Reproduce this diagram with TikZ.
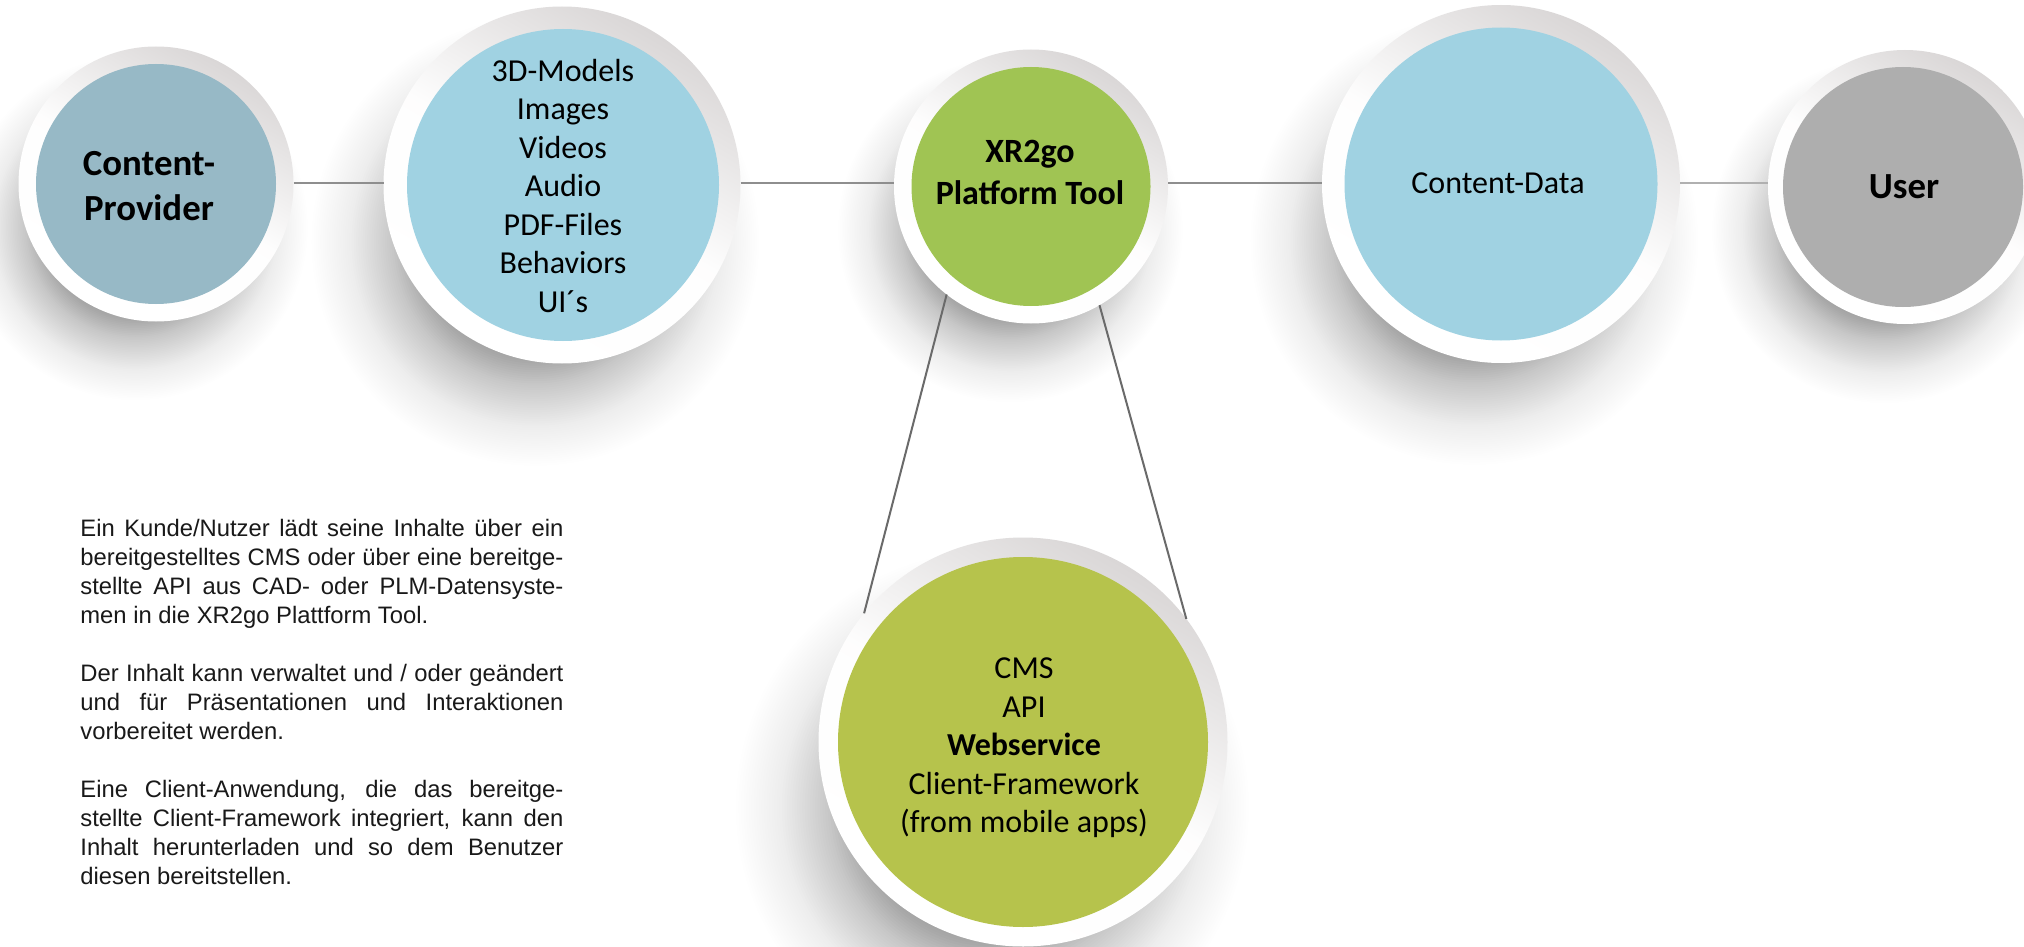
\documentclass[tikz,border=0pt]{standalone}
\usepackage{fontspec}
\setmainfont{Carlito}
\newfontfamily\bodyfont{Liberation Sans}
\definecolor{lineC}{HTML}{8E8E8E}
\definecolor{lineD}{HTML}{6A6A6A}
\definecolor{provC}{HTML}{97B9C6}
\definecolor{blueC}{HTML}{A0D2E2}
\definecolor{greenA}{HTML}{A0C453}
\definecolor{greenB}{HTML}{B6C34C}
\definecolor{greyC}{HTML}{AEAEAE}
\definecolor{rimC}{HTML}{DAD7D7}
\newcommand{\jl}[1]{\makebox[241.5pt][s]{#1}}
\tikzset{
 x=0.5pt,y=-0.5pt,
 conn/.style={draw=lineC,line width=0.75pt},
 diag/.style={draw=lineD,line width=1pt},
 label/.style={font=\fontsize{16}{19.25}\selectfont,align=center,text=black,inner sep=0pt},
 blabel/.style={font=\fontsize{18.4}{22.5}\selectfont\bfseries,align=center,text=black,inner sep=0pt},
 body/.style={font=\bodyfont\fontsize{11.9}{14.5}\selectfont,align=left,text=black!90,inner sep=0pt,anchor=north west},
 rim/.style={circle,minimum size=#1,inner sep=0pt,outer sep=0pt,
   top color=rimC,bottom color=white,middle color=white!96!rimC,shading angle=-30},
 core/.style={circle,minimum size=#1,inner sep=0pt,outer sep=0pt},
}
\newcommand{\shadowblob}[3]{% cx, cy, r (px): stack of faint discs, largest first
 \foreach \st in {1,...,60}{
  \pgfmathsetmacro{\tt}{1-\st/60}
  \pgfmathsetmacro{\op}{0.38*2*(1-\tt)/60+0.0002}
  \pgfmathsetmacro{\rad}{(0.62+0.75*\tt)*#3}
  \fill[black,fill opacity=\op] ({#1-0.15*#3},{#2+0.32*#3}) circle ({\rad});
 }}
\begin{document}
\begin{tikzpicture}
\useasboundingbox (0,0) rectangle (2024,947);
\fill[white] (0,0) rectangle (2024,947);
\begin{scope}
\clip (0,0) rectangle (2024,947);
% shadows
\shadowblob{156}{184}{137}
\shadowblob{562}{185}{178}
\shadowblob{1031}{186}{137}
\shadowblob{1501}{184}{178}
\shadowblob{1905}{187}{137}
\shadowblob{1023}{742}{204}
% rims
\node[rim=137.5pt] (r1) at (156,184) {};
\node[rim=178.5pt] (r2) at (562,185) {};
\node[rim=137pt] (r3) at (1031,186.5) {};
\node[rim=179pt] (r4) at (1501,184) {};
\node[rim=137pt] (r5) at (1905,187) {};
\node[rim=204.5pt] (r6) at (1023,742) {};
% cores
\node[core=120pt,fill=provC] (c1) at (156,184) {};
\node[core=156pt,fill=blueC] (c2) at (563,185) {};
\node[core=119.5pt,fill=greenA] (c3) at (1031,186.5) {};
\node[core=156.5pt,fill=blueC] (c4) at (1501,184) {};
\node[core=120pt,fill=greyC] (c5) at (1903,187) {};
\node[core=185pt,fill=greenB] (c6) at (1023,742) {};
\end{scope}
% connectors
\coordinate (ly) at (0,183);
\draw[conn] (r1.east |- ly) -- (r2.west |- ly);
\draw[conn] (r2.east |- ly) -- (r3.west |- ly);
\draw[conn] (r3.east |- ly) -- (r4.west |- ly);
\draw[conn,draw=lineC!70] (r4.east |- ly) -- (r5.west |- ly);
\draw[diag] (r3.-128) -- (r6.141.4);
\draw[diag] (r3.-60.5) -- (r6.37.6);
% labels
\node[blabel] (t1) at (149,186) {Content-\\Provider};
\node[label] (t2) at (563,186) {3D-Models\\Images\\Videos\\Audio\\PDF-Files\\Behaviors\\UI´s};
\node[blabel,font=\fontsize{17}{21}\selectfont\bfseries] (t3) at (1030,172) {XR2go\\Platform Tool};
\node[label] (t4) at (1498,183) {Content-Data};
\node[blabel] (t5) at (1904,187) {User};
\node[label] (t6) at (1024,748) {CMS\\API\\\textbf{Webservice}\\Client-Framework\\(from mobile apps)};
\node[body] (t7) at (80,519) {\jl{Ein Kunde/Nutzer lädt seine Inhalte über ein}\\
\jl{bereitgestelltes CMS oder über eine bereitge-}\\
\jl{stellte API aus CAD- oder PLM-Datensyste-}\\
men in die XR2go Plattform Tool.\\[14.5pt]
\jl{Der Inhalt kann verwaltet und / oder geändert}\\
\jl{und für Präsentationen und Interaktionen}\\
vorbereitet werden.\\[14.5pt]
\jl{Eine Client-Anwendung, die das bereitge-}\\
\jl{stellte Client-Framework integriert, kann den}\\
\jl{Inhalt herunterladen und so dem Benutzer}\\
diesen bereitstellen.};
\end{tikzpicture}
\end{document}
